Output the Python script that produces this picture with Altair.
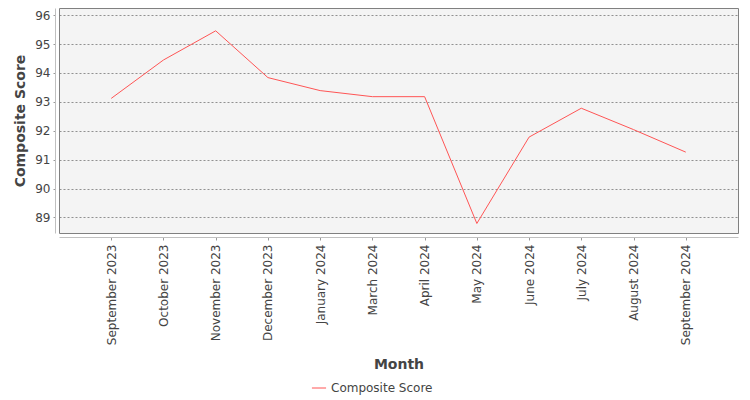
import altair as alt
import pandas as pd

months = ["September 2023", "October 2023", "November 2023", "December 2023",
          "January 2024", "March 2024", "April 2024", "May 2024", "June 2024",
          "July 2024", "August 2024", "September 2024"]
scores = [93.12, 94.45, 95.46, 93.84, 93.39, 93.18, 93.18, 88.79, 91.78, 92.78, 92.04, 91.26]
series = ["Composite Score"] * len(months)

df = pd.DataFrame({"Month": months, "Score": scores, "Series": series})

FONT = "DejaVu Sans"

chart = alt.Chart(df).mark_line(strokeWidth=1).encode(
    x=alt.X("Month:N", sort=months,
            scale=alt.Scale(type="point", padding=1.03),
            axis=alt.Axis(title="Month", labelAngle=270, labelAlign="right",
                          labelBaseline="middle", labelFontSize=12, labelColor="#444444",
                          labelFont=FONT, labelPadding=4,
                          domainColor="#c0c0c0", tickColor="#999999", tickSize=3,
                          offset=4, grid=False,
                          titleFont=FONT, titleFontSize=14, titleFontWeight="bold",
                          titleColor="#444444", titleBaseline="middle", titleY=127)),
    y=alt.Y("Score:Q",
            scale=alt.Scale(domain=[88.46, 96.25], nice=False, zero=False),
            axis=alt.Axis(title="Composite Score", values=[89, 90, 91, 92, 93, 94, 95, 96],
                          labelFontSize=12, labelColor="#444444", labelFont=FONT,
                          labelPadding=3,
                          domainColor="#c0c0c0", tickColor="#999999", tickSize=2,
                          offset=4, grid=True, gridColor="#777777", gridDash=[2, 2],
                          gridWidth=0.8,
                          titleFont=FONT, titleFontSize=14, titleFontWeight="bold",
                          titleColor="#444444", titleBaseline="middle",
                          titleX=-35, titleY=112.5, titleAngle=270)),
    color=alt.Color("Series:N",
                    scale=alt.Scale(domain=["Composite Score"], range=["#ff5555"]),
                    legend=alt.Legend(title=None, orient="none", legendX=252, legendY=372,
                                      symbolType="stroke", symbolStrokeWidth=1,
                                      symbolSize=200, labelFontSize=12,
                                      labelFont=FONT, labelColor="#444444"))
).properties(
    width=679, height=225,
    autosize=alt.AutoSizeParams(type="none"),
    padding={"left": 51, "top": 0, "right": 4, "bottom": 166},
    background="white"
).configure_view(
    fill="#f4f4f4", stroke="#808080", strokeWidth=1
)

chart.save("out.html", embed_options={"renderer": "svg", "actions": False})
